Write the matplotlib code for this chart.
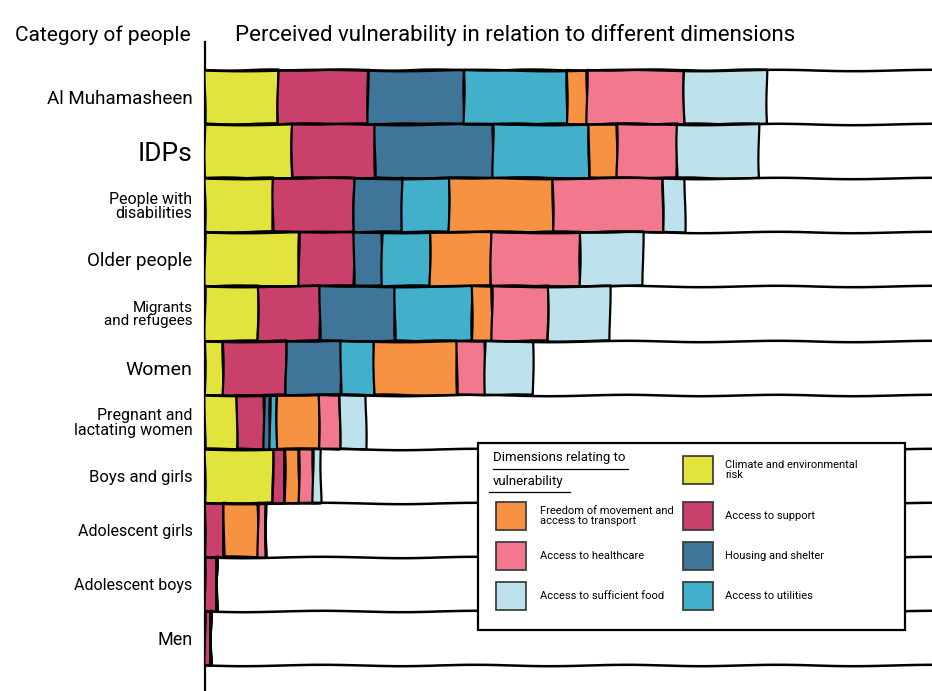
import matplotlib
matplotlib.use("Agg")
import matplotlib.pyplot as plt
from matplotlib.patches import Rectangle
from matplotlib.lines import Line2D

# ---------------- data ----------------
categories = ["Al Muhamasheen", "IDPs", "People with\ndisabilities", "Older people",
              "Migrants\nand refugees", "Women", "Pregnant and\nlactating women",
              "Boys and girls", "Adolescent girls", "Adolescent boys", "Men"]

dimensions = ["Climate and environmental\nrisk", "Access to support", "Housing and shelter",
              "Access to utilities", "Freedom of movement and\naccess to transport",
              "Access to healthcare", "Access to sufficient food"]

climate    = [73, 87, 68, 94, 53, 18, 32, 68, 0, 0, 0]
support    = [90, 83, 81, 55, 62, 63, 27, 12, 19, 12, 6]
housing    = [96, 118, 48, 28, 75, 55, 6, 0, 0, 0, 0]
utilities  = [103, 96, 47, 48, 77, 33, 7, 0, 0, 0, 0]
movement   = [20, 28, 104, 61, 20, 83, 42, 14, 34, 0, 0]
healthcare = [97, 60, 110, 89, 56, 28, 21, 14, 8, 0, 0]
food       = [83, 82, 22, 63, 62, 48, 26, 8, 0, 0, 0]

series = [climate, support, housing, utilities, movement, healthcare, food]
colors = ["#E3E33E", "#C9406A", "#3F7599", "#42AFCB", "#F79243", "#F1788D", "#BEE2EB"]

title_left = "Category of people"
title_right = "Perceived vulnerability in relation to different dimensions"
legend_title = ["Dimensions relating to", "vulnerability"]

# ---------------- style ----------------
plt.rcParams["font.family"] = ["Roboto", "DejaVu Sans"]

W, H = 932, 691
fig = plt.figure(figsize=(W / 100, H / 100), dpi=100)

def fx(px):
    return px / W

def fy(py):
    return 1 - py / H

ax = fig.add_axes([fx(205), 0, 1 - fx(205), fy(42)])
n = len(categories)
ax.set_ylim(n - 0.5 + 0.48, -0.5 - 0.52)
ax.set_xlim(0, 727)

left = [0] * n
for vals, col in zip(series, colors):
    bars = ax.barh(range(n), vals, left=left, height=1.0, color=col,
                   edgecolor="black", linewidth=1.6, zorder=3)
    for b in bars:
        b.set_sketch_params(0.6, 100, 2)
    left = [l + v for l, v in zip(left, vals)]

hl = ax.hlines([i - 0.5 for i in range(n + 1)], 0, 727, color="black",
               linewidth=1.8, zorder=4)
hl.set_sketch_params(0.7, 160, 1.5)

for s in ["top", "right", "bottom"]:
    ax.spines[s].set_visible(False)
ax.spines["left"].set_linewidth(1.6)
ax.set_xticks([])
ax.set_yticks(range(n))
label_sizes = [13.5, 19, 11.5, 13.5, 11, 14, 11.5, 12, 11.5, 11.5, 13]
ax.set_yticklabels(categories, fontsize=12)
for t, s in zip(ax.get_yticklabels(), label_sizes):
    t.set_fontsize(s)
    t.set_linespacing(0.95)
ax.tick_params(axis="y", length=0, pad=9)

fig.text(fx(15), fy(35), title_left, fontsize=15, va="center", ha="left")
fig.text(fx(235), fy(35), title_right, fontsize=16, va="center", ha="left")

# ---------------- legend (drawn manually) ----------------
box = Rectangle((fx(478), fy(630)), fx(905) - fx(478), fy(443) - fy(630),
                transform=fig.transFigure, facecolor="white", edgecolor="black",
                linewidth=1.6, zorder=10)
fig.add_artist(box)

fig.text(fx(493), fy(458), legend_title[0], fontsize=9.5, va="center", ha="left", zorder=11)
fig.text(fx(493), fy(481), legend_title[1], fontsize=9.5, va="center", ha="left", zorder=11)
fig.add_artist(Line2D([fx(493), fx(628)], [fy(469), fy(469)], transform=fig.transFigure,
                      color="black", linewidth=0.9, zorder=11))
fig.add_artist(Line2D([fx(489), fx(570)], [fy(492), fy(492)], transform=fig.transFigure,
                      color="black", linewidth=0.9, zorder=11))

order_left = [4, 5, 6]
order_right = [0, 1, 2, 3]
ys_left = [516, 556, 596]
ys_right = [470, 516, 556, 596]

def legend_item(idx, sx, sy, tx):
    sq = Rectangle((fx(sx), fy(sy + 14)), fx(30), 28 / H, transform=fig.transFigure,
                   facecolor=colors[idx], edgecolor="#333333", linewidth=1.2, zorder=11)
    fig.add_artist(sq)
    fig.text(fx(tx), fy(sy), dimensions[idx], fontsize=8, va="center", ha="left",
             linespacing=0.95, zorder=11)

for idx, y in zip(order_left, ys_left):
    legend_item(idx, 496, y, 540)
for idx, y in zip(order_right, ys_right):
    legend_item(idx, 683, y, 725)

fig.savefig("out.png", dpi=100)
